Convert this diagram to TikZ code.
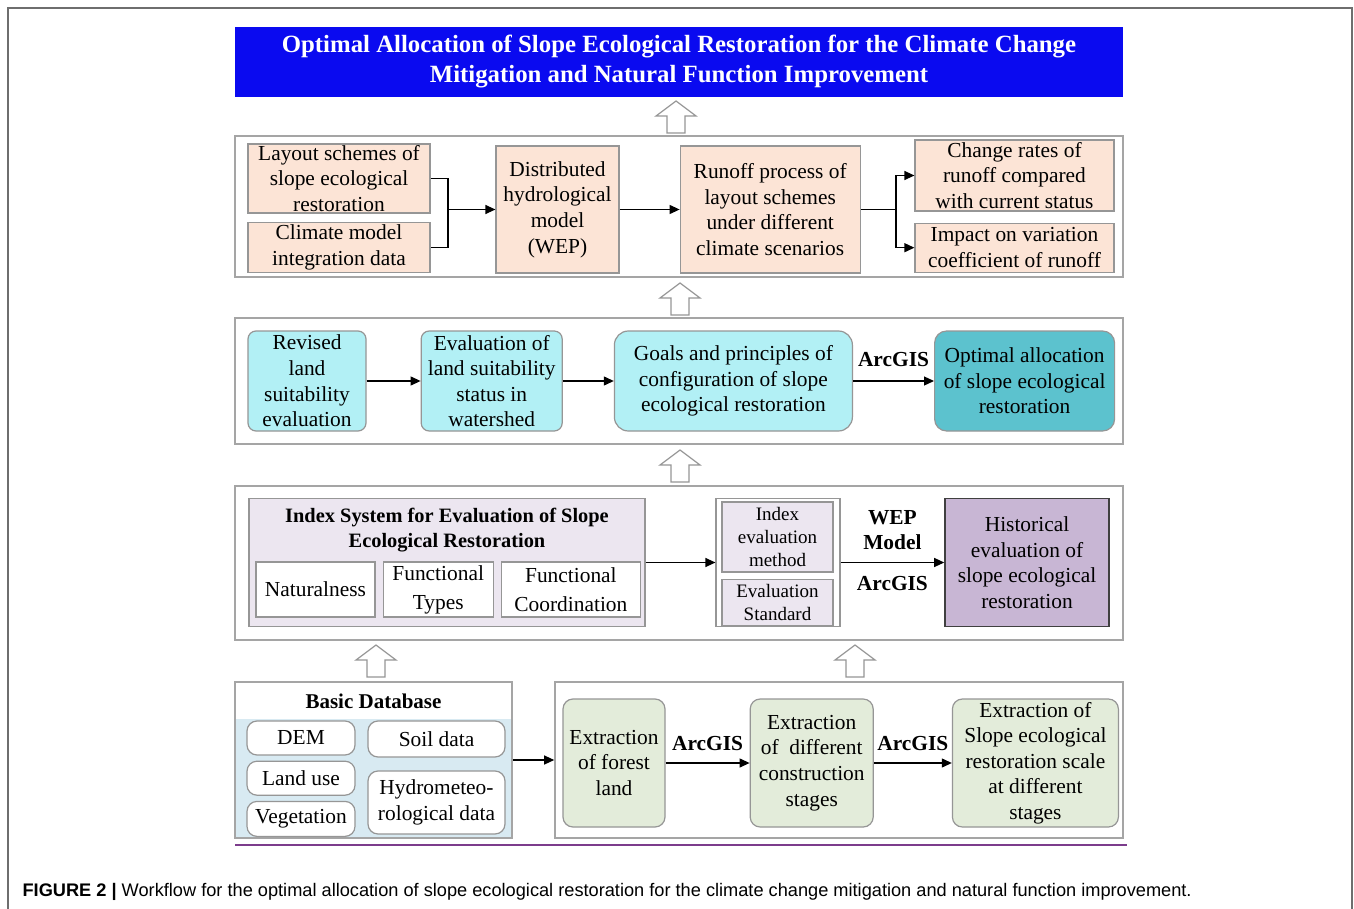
\documentclass[tikz,border=0pt]{standalone}
\usepackage{fontspec}
\setmainfont{Liberation Serif}
\newfontfamily\capfont{Liberation Sans}
\usetikzlibrary{positioning,calc,arrows.meta}

\definecolor{titleblue}{RGB}{10,10,240}
\definecolor{peach}{RGB}{252,228,214}
\definecolor{aqua}{RGB}{178,240,245}
\definecolor{deepaqua}{RGB}{92,194,206}
\definecolor{lilac}{RGB}{236,230,240}
\definecolor{mauve}{RGB}{200,182,212}
\definecolor{skyblue}{RGB}{216,234,242}
\definecolor{sage}{RGB}{227,236,218}
\definecolor{panelgray}{RGB}{165,165,165}
\definecolor{boxgray}{RGB}{150,150,150}
\definecolor{plum}{RGB}{124,60,140}
\definecolor{outergray}{RGB}{110,110,110}

\begin{document}
\begin{tikzpicture}[%
    x=0.5pt,
    y=-0.5pt,
    ->,
    >={Stealth[length=5pt,width=4.5pt,inset=0pt]},
    line width=0.6pt,
    font=\fontsize{10.7}{12.8}\selectfont,
    panel/.style={%
      draw=panelgray,
      line width=0.8pt,
      fill=white,
      minimum width=444pt,
      inner sep=0pt
    },
    titlebox/.style={%
      fill=titleblue,
      text=white,
      font=\bfseries\fontsize{12.4}{15}\selectfont,
      minimum width=444pt,
      minimum height=35pt,
      align=center,
      inner sep=0pt
    },
    peachbox/.style={%
      draw=boxgray,
      fill=peach,
      align=center,
      inner sep=0pt
    },
    aquabox/.style={%
      draw=boxgray,
      fill=aqua,
      rounded corners=4pt,
      minimum height=50pt,
      align=center,
      inner sep=0pt
    },
    lilacbox/.style={%
      draw=boxgray,
      fill=lilac,
      align=center,
      inner sep=0pt
    },
    whitebox/.style={%
      draw=boxgray,
      fill=white,
      align=center,
      inner sep=0pt
    },
    databox/.style={%
      draw=boxgray,
      fill=white,
      rounded corners=5pt,
      minimum width=54pt,
      align=center,
      inner sep=0pt
    },
    sagebox/.style={%
      draw=boxgray,
      fill=sage,
      rounded corners=5pt,
      minimum height=64pt,
      align=center,
      inner sep=0pt
    },
    tool/.style={%
      font=\bfseries\fontsize{10.7}{12.5}\selectfont,
      align=center,
      inner sep=1pt
    },
    uparr/.pic={%
      \draw[-, draw=boxgray, fill=white, line width=0.6pt]
        (-9,0) -- (-9,-17) -- (-20,-17) -- (0,-32) -- (20,-17) -- (9,-17) -- (9,0) -- cycle;
    }
  ]
    \useasboundingbox (0,0) rectangle (1354,909);
    \draw[-, outergray, line width=0.8pt] (8,915) -- (8,8) -- (1352,8) -- (1352,915);

    \node[titlebox] (1) at (679,62) {Optimal Allocation of Slope Ecological Restoration for the Climate Change\\Mitigation and Natural Function Improvement};
    \pic at (676,133) {uparr};

    \node[panel, minimum height=70.5pt] (2) at (679,206.5) {};
    \node[peachbox, minimum width=91pt, minimum height=34.5pt] (3) at (339,178.5) {Layout schemes of\\slope ecological\\restoration};
    \node[peachbox, minimum width=91pt, minimum height=25pt] (4) [below=4pt of 3] {Climate model\\integration data};
    \node[peachbox, minimum width=61.5pt, minimum height=63.5pt] (5) at (557.5,209.5) {Distributed\\hydrological\\model\\(WEP)};
    \node[peachbox, minimum width=90pt, minimum height=63.5pt] (6) [right=30pt of 5] {Runoff process of\\layout schemes\\under different\\climate scenarios};
    \node[peachbox, minimum width=99.5pt, minimum height=35.5pt] (7) at (1014.5,175.5) {Change rates of\\runoff compared\\with current status};
    \node[peachbox, minimum width=99.5pt, minimum height=24.5pt] (8) [below=5.5pt of 7] {Impact on variation\\coefficient of runoff};
    \coordinate (Join) at (448,209.5);
    \coordinate (Split) at (896,209.5);
    \draw[-] (3.east) -| (Join) |- (4.east);
    \draw[-] (6) -- (Split);
    \draw (Split) |- (7);
    \draw (Split) |- (8);
    \path (Join) edge (5)
          (5) edge (6);
    \pic at (680,315) {uparr};

    \node[panel, minimum height=63pt] (9) at (679,381) {};
    \node[aquabox, minimum width=59pt] (10) at (307,381) {Revised\\land\\suitability\\evaluation};
    \node[aquabox, minimum width=70.5pt] (11) [right=27pt of 10] {Evaluation of\\land suitability\\status in\\watershed};
    \node[aquabox, minimum width=119pt, rounded corners=7pt] (12) [right=25.5pt of 11] {Goals and principles of\\configuration of slope\\ecological restoration};
    \node[aquabox, minimum width=90pt, fill=deepaqua, rounded corners=6pt] (13) [right=40.5pt of 12] {Optimal allocation\\of slope ecological\\restoration};
    \path (10) edge (11)
          (11) edge (12)
          (12) edge node[tool, above=6pt] {ArcGIS} (13);
    \pic at (680,482) {uparr};

    \node[panel, minimum height=77pt] (14) at (679,563) {};
    \node[lilacbox, minimum width=198pt, minimum height=64pt] (15) at (447,562.5) {};
    \node[font=\bfseries\fontsize{10.2}{12.5}\selectfont, align=center] (16) at (447,530) {Index System for Evaluation of Slope\\Ecological Restoration};
    \node[whitebox, minimum width=59.5pt, minimum height=27.5pt] (17) at (315.5,589.5) {Naturalness};
    \node[whitebox, minimum width=55pt, minimum height=27.5pt, font=\fontsize{10.7}{14.5}\selectfont] (18) [right=3.5pt of 17] {Functional\\Types};
    \node[whitebox, minimum width=69.5pt, minimum height=27.5pt, font=\fontsize{10.7}{14.5}\selectfont] (19) [right=3.5pt of 18] {Functional\\Coordination};
    \node[whitebox, minimum width=62pt, minimum height=64pt] (20) at (778,562.5) {};
    \node[lilacbox, minimum width=55.5pt, minimum height=35pt, font=\fontsize{9.5}{11.3}\selectfont] (21) at (777.5,537) {Index\\evaluation\\method};
    \node[lilacbox, minimum width=55.5pt, minimum height=23pt, font=\fontsize{9.5}{11.3}\selectfont] (22) [below=3pt of 21] {Evaluation\\Standard};
    \node[draw=black!75, line width=0.8pt, fill=mauve, minimum width=82pt, minimum height=64pt, align=center, inner sep=0pt] (23) at (1027,562.5) {Historical\\evaluation of\\slope ecological\\restoration};
    \path (15) edge (20)
          (20) edge node[tool, above=5pt] {WEP\\Model} node[tool, below=5.5pt] {ArcGIS} (23);
    \pic at (376,677) {uparr};
    \pic at (855,677) {uparr};

    \node[fill=skyblue, minimum width=138.5pt, minimum height=59.5pt, inner sep=0pt] (25) at (373.5,778.5) {};
    \node[panel, fill=none, minimum width=138.5pt, minimum height=78pt] (24) at (373.5,760) {};
    \node[font=\bfseries\fontsize{10.5}{12.5}\selectfont] (26) at (373.5,701) {Basic Database};
    \node[databox, minimum height=17pt] (27) at (301,738) {DEM};
    \node[databox, minimum height=17pt] (28) [below=2.5pt of 27] {Land use};
    \node[databox, minimum height=17.5pt] (29) [below=2.5pt of 28] {Vegetation};
    \node[databox, minimum width=68.5pt, minimum height=18pt] (30) at (436.5,739) {Soil data};
    \node[databox, minimum width=68.5pt, minimum height=31.5pt] (31) at (436.5,802.5) {Hydrometeo-\\rological data};

    \node[panel, minimum width=284pt, minimum height=78pt] (32) at (839,760) {};
    \node[sagebox, minimum width=51pt] (33) at (614,763) {Extraction\\of forest\\land};
    \node[sagebox, minimum width=61.5pt] (34) [right=42pt of 33] {Extraction\\of \ different\\construction\\stages};
    \node[sagebox, minimum width=83pt] (35) [right=39pt of 34] {Extraction of\\Slope ecological\\restoration scale\\at different\\stages};
    \path (24) edge (32)
          (33) edge node[tool, above=5pt] {ArcGIS} (34)
          (34) edge node[tool, above=5pt] {ArcGIS} (35);

    \draw[-, plum, line width=1pt] (235,845) -- (1127,845);

    \node[anchor=west, font=\capfont\fontsize{9.1}{11}\selectfont, inner sep=0pt] (36) at (22,892) {\textbf{FIGURE 2 |} Workflow for the optimal allocation of slope ecological restoration for the climate change mitigation and natural function improvement.};
\end{tikzpicture}
\end{document}
